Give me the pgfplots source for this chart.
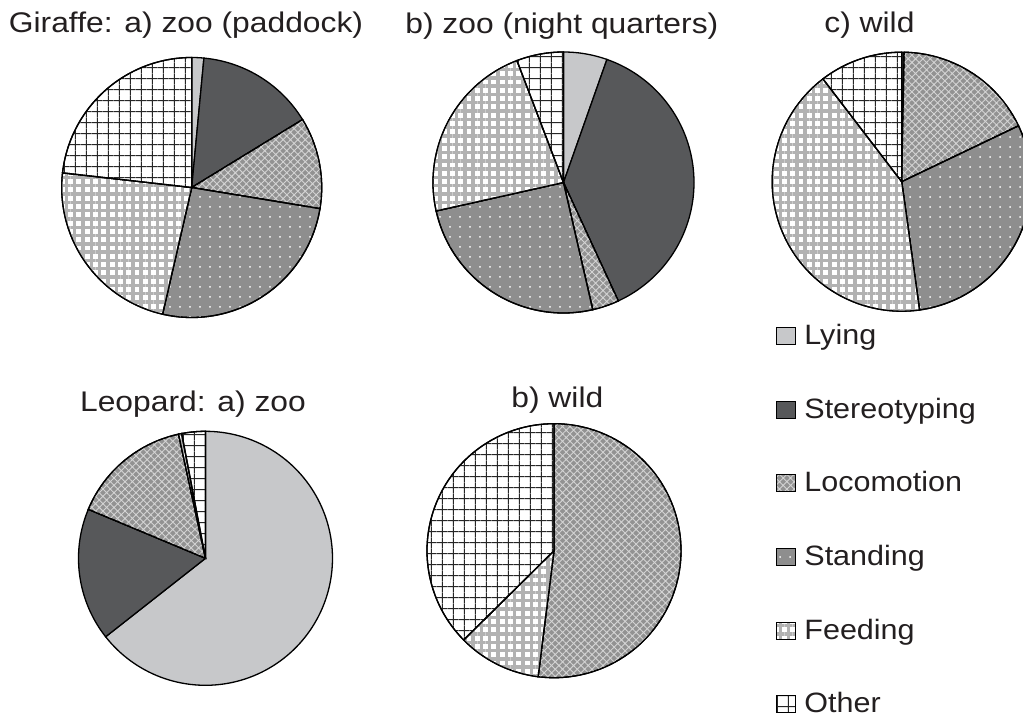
\documentclass[border=0pt]{standalone}
\usepackage{fontspec}
\setmainfont{Liberation Sans}
\newfontfamily\titlefont{Liberation Sans}[FakeStretch=1.12]
\newfontfamily\legfont{Liberation Sans}[FakeStretch=1.09]
\usepackage{pgfplots}
\usepackage{pgfplotstable}
\pgfplotsset{compat=1.18}
\usetikzlibrary{patterns.meta}

% percentages of time (clockwise from 12 o'clock)
\pgfplotstableread{
cat pct
Lying 1.5
Stereotyping 14.75
Locomotion 11.35
Standing 26.0
Feeding 23.2
Other 23.2
}\giraffeA
\pgfplotstableread{
cat pct
Lying 5.4
Stereotyping 37.7
Locomotion 3.3
Standing 25.1
Feeding 22.7
Other 5.8
}\giraffeB
\pgfplotstableread{
cat pct
Lying 0
Stereotyping 0.3
Locomotion 17.6
Standing 29.9
Feeding 41.8
Other 10.4
}\giraffeC
\pgfplotstableread{
cat pct
Lying 64.4
Stereotyping 16.9
Locomotion 15.3
Standing 0
Feeding 0.4
Other 3.0
}\leopardA
\pgfplotstableread{
cat pct
Lying 0
Stereotyping 0
Locomotion 52.0
Standing 0
Feeding 10.6
Other 37.4
}\leopardB

\definecolor{lyingc}{RGB}{199,200,202}
\definecolor{stereoc}{RGB}{87,88,90}
\definecolor{lococ}{RGB}{146,146,146}
\definecolor{locop}{RGB}{212,212,212}
\definecolor{standc}{RGB}{142,142,142}
\definecolor{feedp}{RGB}{178,178,178}
\definecolor{txt}{RGB}{35,31,32}

\pgfplotsset{
  slicebase/.style={draw=black, line width=0.65pt},
  slice0/.style={slicebase, fill=lyingc},
  slice1/.style={slicebase, fill=stereoc},
  slice2/.style={slicebase, fill=lococ, postaction={pattern color=locop, pattern={Hatch[angle=45,distance=2.6pt,line width=0.45pt]}}},
  slice3/.style={slicebase, fill=standc, postaction={pattern color=white, pattern={Dots[radius=0.5pt,distance=5pt]}}},
  slice4/.style={slicebase, fill=white, postaction={pattern color=feedp, pattern={Hatch[angle=0,distance=4.15pt,line width=1.7pt]}}},
  slice5/.style={slicebase, fill=white, postaction={pattern color=black!85, pattern={Hatch[angle=0,distance=5.4pt,line width=0.55pt]}}},
}

\newcommand\drawpie[4]{% #1 table, #2 cx, #3 cy, #4 radius
  \gdef\pieacc{0}%
  \pgfplotsinvokeforeach{0,...,5}{%
    \pgfplotstablegetelem{##1}{pct}\of{#1}%
    \pgfmathsetmacro\pct{\pgfplotsretval}%
    \pgfmathsetmacro\astart{3.6*\pieacc}%
    \pgfmathsetmacro\aend{3.6*(\pieacc+\pct)}%
    \pgfmathsetmacro\newacc{\pieacc+\pct}%
    \xdef\pieacc{\newacc}%
    \ifdim\pct pt>0pt
      \edef\doplot{\noexpand\addplot[slice##1, forget plot, domain=\astart:\aend, samples=120]
        ({#2+#4*sin(x)},{#3-#4*cos(x)}) -- (axis cs:#2,#3) -- cycle;}%
      \doplot
    \fi
  }%
}

\begin{document}
\begin{tikzpicture}
\begin{axis}[
  x=0.5pt, y=0.5pt,
  xmin=0, xmax=1023, ymin=0, ymax=717,
  y dir=reverse,
  hide axis,
  legend cell align=left,
  legend style={at={(axis cs:775.7,321)}, anchor=north west, draw=none, fill=none,
    inner sep=0pt, row sep=22.35pt, column sep=4.5pt, text=txt,
    font=\legfont\fontsize{14}{16}\selectfont,
    nodes={inner sep=0pt, text height=11.5pt, text depth=3pt}},
  legend image code/.code={\draw[#1, line width=0.45pt] (0pt,-4.25pt) rectangle (9.2pt,4.25pt);},
]
\drawpie{\giraffeA}{191.7}{187.5}{130}
\drawpie{\giraffeB}{563.5}{182.5}{130.5}
\drawpie{\giraffeC}{901.7}{181.7}{129.5}
\drawpie{\leopardA}{205.5}{558.3}{127}
\drawpie{\leopardB}{554}{550.7}{127}

\addlegendimage{slice0}\addlegendentry{Lying}
\addlegendimage{slice1}\addlegendentry{Stereotyping}
\addlegendimage{slice2}\addlegendentry{Locomotion}
\addlegendimage{slice3}\addlegendentry{Standing}
\addlegendimage{slice4}\addlegendentry{Feeding}
\addlegendimage{slice5}\addlegendentry{Other}

\begin{scope}[every node/.style={anchor=base west, inner sep=0pt, text=txt, font=\titlefont\fontsize{14.2}{17}\selectfont}]
\node at (axis cs:8.5,33) {Giraffe: a) zoo (paddock)};
\node at (axis cs:405,33.3) {b) zoo (night quarters)};
\node at (axis cs:824,33) {c) wild};
\node at (axis cs:79.7,411.7) {Leopard: a) zoo};
\node at (axis cs:511,407) {b) wild};
\end{scope}
\end{axis}
\pgfresetboundingbox
\useasboundingbox (current axis.south west) rectangle (current axis.north east);
\end{tikzpicture}
\end{document}
